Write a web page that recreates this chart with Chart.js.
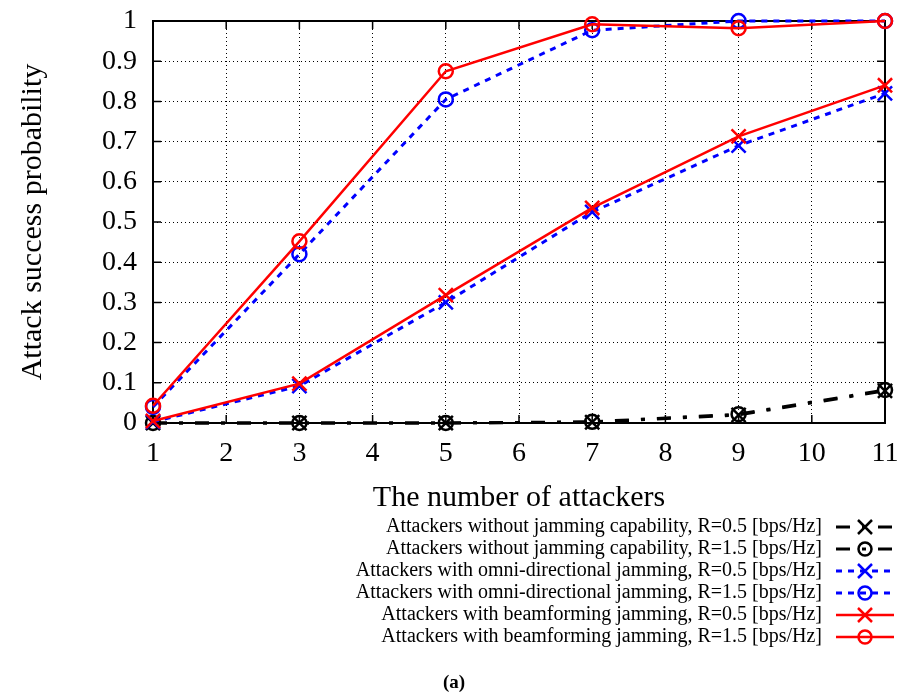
<!DOCTYPE html>
<html lang="en">
  <head>
    <meta charset="UTF-8" />
    <title>Attack success probability</title>
    <script src="https://cdn.jsdelivr.net/npm/chart.js"></script>
    <style>
      html, body { margin: 0; padding: 0; background: #fff; }
      #wrap { width: 908px; height: 698px; position: relative; }
    </style>
  </head>
  <body>
    <div id="wrap"><canvas id="chartCanvas"></canvas></div>
    <script>
      // data
      const attackers = [1, 3, 5, 7, 9, 11];
      const noJam05 = [0, 0, 0, 0.002, 0.02, 0.08];
      const noJam15 = [0, 0, 0, 0.003, 0.022, 0.082];
      const omni05 = [0.003, 0.092, 0.3, 0.525, 0.69, 0.82];
      const omni15 = [0.04, 0.42, 0.805, 0.977, 1.0, 1.0];
      const beam05 = [0.005, 0.098, 0.318, 0.535, 0.713, 0.84];
      const beam15 = [0.043, 0.452, 0.875, 0.992, 0.982, 1.0];
      const yTickLabels = ["0", "0.1", "0.2", "0.3", "0.4", "0.5", "0.6", "0.7", "0.8", "0.9", "1"];
      const seriesLabels = [
        "Attackers without jamming capability, R=0.5 [bps/Hz]",
        "Attackers without jamming capability, R=1.5 [bps/Hz]",
        "Attackers with omni-directional jamming, R=0.5 [bps/Hz]",
        "Attackers with omni-directional jamming, R=1.5 [bps/Hz]",
        "Attackers with beamforming jamming, R=0.5 [bps/Hz]",
        "Attackers with beamforming jamming, R=1.5 [bps/Hz]",
      ];

      const serif = "'Liberation Serif', 'Times New Roman', serif";
      const BLACK_DASH = [14, 12, 4, 12];
      const BLUE_DASH = [6, 6];

      function pts(vals) {
        return attackers.map((x, i) => ({ x: x, y: vals[i] }));
      }

      function makeSet(label, vals, color, dash, style, width, order) {
        return {
          label: label,
          data: pts(vals),
          borderColor: color,
          backgroundColor: "rgba(0,0,0,0)",
          borderWidth: width,
          borderDash: dash,
          pointStyle: style,
          pointRadius: style === "circle" ? 7 : 10,
          pointBorderWidth: 2.5,
          pointBorderColor: color,
          pointBackgroundColor: "rgba(0,0,0,0)",
          tension: 0,
          fill: false,
          clip: false,
          order: order,
        };
      }

      const datasets = [
        makeSet(seriesLabels[0], noJam05, "#000", BLACK_DASH, "crossRot", 3, 6),
        makeSet(seriesLabels[1], noJam15, "#000", BLACK_DASH, "circle", 3, 5),
        makeSet(seriesLabels[2], omni05, "#0000ff", BLUE_DASH, "crossRot", 3, 4),
        makeSet(seriesLabels[3], omni15, "#0000ff", BLUE_DASH, "circle", 3, 3),
        makeSet(seriesLabels[4], beam05, "#ff0000", [], "crossRot", 2.5, 2),
        makeSet(seriesLabels[5], beam15, "#ff0000", [], "circle", 2.5, 1),
      ];

      // box frame and inward ticks (gnuplot style)
      const framePlugin = {
        id: "frame",
        beforeDatasetsDraw(chart) {
          const { ctx, chartArea: a, scales } = chart;
          ctx.save();
          ctx.strokeStyle = "#000";
          ctx.lineWidth = 2;
          ctx.setLineDash([]);
          ctx.strokeRect(a.left, a.top, a.right - a.left, a.bottom - a.top);
          ctx.lineWidth = 1.5;
          ctx.beginPath();
          scales.x.ticks.forEach((t) => {
            const x = scales.x.getPixelForValue(t.value);
            ctx.moveTo(x, a.bottom); ctx.lineTo(x, a.bottom - 8);
            ctx.moveTo(x, a.top); ctx.lineTo(x, a.top + 8);
          });
          scales.y.ticks.forEach((t) => {
            const y = scales.y.getPixelForValue(t.value);
            ctx.moveTo(a.left, y); ctx.lineTo(a.left + 8, y);
            ctx.moveTo(a.right, y); ctx.lineTo(a.right - 8, y);
          });
          ctx.stroke();
          ctx.restore();
        },
        afterDraw(chart) {
          const ctx = chart.ctx;
          ctx.save();
          // legend, text right aligned with sample on the right
          ctx.font = "20px " + serif;
          ctx.textAlign = "right";
          ctx.textBaseline = "middle";
          chart.data.datasets.forEach((ds, i) => {
            const y = 527 + i * 22;
            ctx.fillStyle = "#000";
            ctx.fillText(ds.label, 822, y);
            ctx.strokeStyle = ds.borderColor;
            ctx.lineWidth = ds.borderWidth;
            ctx.setLineDash(ds.borderDash);
            ctx.beginPath();
            ctx.moveTo(836, y);
            ctx.lineTo(894, y);
            ctx.stroke();
            ctx.setLineDash([]);
            ctx.lineWidth = 2.5;
            ctx.beginPath();
            if (ds.pointStyle === "circle") {
              ctx.arc(865, y, 6.5, 0, Math.PI * 2);
            } else {
              ctx.moveTo(858, y - 7); ctx.lineTo(872, y + 7);
              ctx.moveTo(872, y - 7); ctx.lineTo(858, y + 7);
            }
            ctx.stroke();
          });
          // caption
          ctx.textAlign = "center";
          ctx.font = "bold 19px " + serif;
          ctx.fillStyle = "#000";
          ctx.fillText("(a)", 454, 683);
          ctx.restore();
        },
      };

      function noOverhang(s) {
        s.paddingLeft = 0;
        s.paddingRight = 0;
        s.paddingTop = 0;
        s.paddingBottom = 0;
      }

      new Chart(document.getElementById("chartCanvas"), {
        type: "line",
        data: { datasets: datasets },
        plugins: [framePlugin],
        options: {
          responsive: true,
          maintainAspectRatio: false,
          animation: false,
          layout: { padding: { left: 0, right: 23, top: 21, bottom: 0 } },
          plugins: { legend: { display: false }, tooltip: { enabled: false } },
          scales: {
            x: {
              type: "linear",
              min: 1,
              max: 11,
              afterFit: (s) => { s.height = 275; noOverhang(s); },
              ticks: {
                stepSize: 1,
                color: "#000",
                padding: 14,
                maxRotation: 0,
                font: { family: serif, size: 28 },
              },
              grid: { color: "#000", lineWidth: 1, drawTicks: false },
              border: { display: false, dash: [1, 3] },
              title: {
                display: true,
                text: "The number of attackers",
                color: "#000",
                font: { family: serif, size: 30 },
                padding: { top: 0, bottom: 182 },
              },
            },
            y: {
              min: 0,
              max: 1,
              afterFit: (s) => { s.width = 153; noOverhang(s); },
              ticks: {
                stepSize: 0.1,
                color: "#000",
                padding: 16,
                font: { family: serif, size: 28 },
                callback: (v, i) => yTickLabels[i],
              },
              grid: { color: "#000", lineWidth: 1, drawTicks: false },
              border: { display: false, dash: [1, 3] },
              title: {
                display: true,
                text: "Attack success probability",
                color: "#000",
                font: { family: serif, size: 30 },
                padding: { top: 15, bottom: 0 },
              },
            },
          },
        },
      });
    </script>
  </body>
</html>
